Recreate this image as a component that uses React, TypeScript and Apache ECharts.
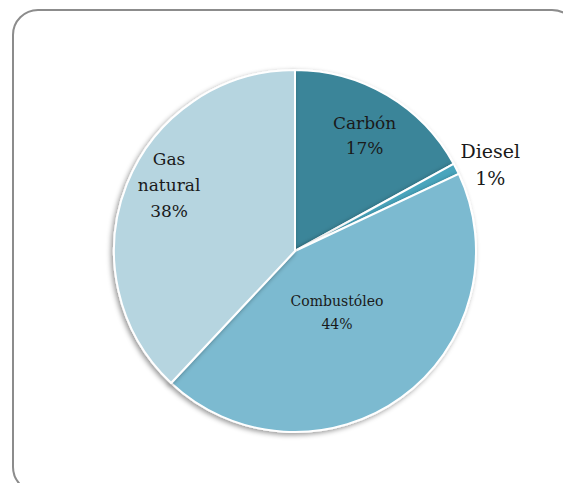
import React, { useEffect, useRef } from "react";
import * as echarts from "echarts";

const categories = ["Carbón", "Diesel", "Combustóleo", "Gas natural"];
const values = [17, 1, 44, 38];
const colors = ["#3a8599", "#4aa5bd", "#7bbad0", "#b6d5e0"];
const labelSizes = [17, 19, 14, 17];
const labelLineHeights = [25, 27, 23, 26];
const labelOffsets = [
  [22, -35],
  [112, -44],
  [-13, -14],
  [-39, -32],
];

export default function App() {
  const ref = useRef<HTMLDivElement>(null);
  useEffect(() => {
    if (!ref.current) return;
    const chart = echarts.init(ref.current, undefined, { renderer: "svg" });
    chart.setOption({
      animation: false,
      backgroundColor: "#ffffff",
      graphic: [
        {
          type: "rect",
          z: -10,
          shape: { x: 13, y: 10, width: 564, height: 482, r: 25 },
          style: { fill: "#ffffff", stroke: "#8c8c8c", lineWidth: 2 },
        },
      ],
      series: [
        {
          type: "pie",
          center: [295, 251],
          radius: [0, 181],
          startAngle: 90,
          clockwise: true,
          labelLine: { show: false },
          itemStyle: {
            borderColor: "#ffffff",
            borderWidth: 2,
            shadowBlur: 5,
            shadowOffsetX: -2,
            shadowOffsetY: 2,
            shadowColor: "rgba(0,0,0,0.4)",
          },
          label: {
            show: true,
            position: "inside",
            fontFamily: "DejaVu Serif",
            color: "#1a1a1a",
            formatter: (p: any) => p.name.replace(" ", "\n") + "\n" + p.percent + "%",
          },
          labelLayout: (params: any) => {
            const o = labelOffsets[params.dataIndex] || [0, 0];
            return { dx: o[0], dy: o[1] };
          },
          data: categories.map((name, i) => ({
            name,
            value: values[i],
            itemStyle: { color: colors[i] },
            label: { fontSize: labelSizes[i], lineHeight: labelLineHeights[i] },
          })),
        },
      ],
    });
    return () => chart.dispose();
  }, []);
  return (
    <div
      ref={ref}
      style={{ position: "fixed", left: 0, top: 0, width: 563, height: 483 }}
    />
  );
}
